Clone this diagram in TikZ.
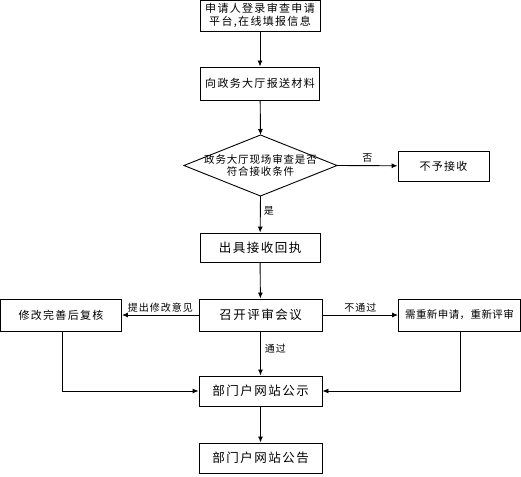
\documentclass[tikz,border=0pt]{standalone}
\usepackage{fontspec}
\setmainfont{Noto Sans CJK SC}
\usetikzlibrary{arrows.meta}
\begin{document}
\begin{tikzpicture}[x=1pt,y=-1pt,
  box/.style={draw,line width=0.9pt,inner sep=0pt,align=center,font=\fontsize{11}{13}\selectfont\addfontfeature{LetterSpace=12}},
  big/.style={font=\fontsize{12.5}{14}\selectfont\addfontfeature{LetterSpace=12}},
  lab/.style={font=\fontsize{10}{12}\selectfont\addfontfeature{LetterSpace=10},inner sep=1pt},
  arr/.style={line width=0.9pt,-{Latex[length=6pt,width=5pt]}}]
\useasboundingbox (0,0) rectangle (521,476);
\node[box,minimum width=120,minimum height=31] (a) at (260,15.5) {申请人登录审查申请\\平台,在线填报信息};
\node[box,minimum width=119,minimum height=33] (b) at (260,83.5) {向政务大厅报送材料};
\coordinate (dt) at (260.5,135);
\coordinate (db) at (260.5,196);
\coordinate (dl) at (184,165.5);
\coordinate (dr) at (337,165.5);
\draw[line width=0.9pt] (dt) -- (dr) -- (db) -- (dl) -- cycle;
\node[inner sep=0pt,align=center,font=\fontsize{10.5}{12.5}\selectfont\addfontfeature{LetterSpace=8}] (d) at (260.5,165.5) {政务大厅现场审查是否\\符合接收条件};
\node[box,minimum width=91,minimum height=30] (e) at (443.5,166) {不予接收};
\node[box,big,minimum width=120,minimum height=29] (f) at (260,247.5) {出具接收回执};
\node[box,big,minimum width=123,minimum height=32] (g) at (260.5,315) {召开评审会议};
\node[box,minimum width=121,minimum height=32] (h) at (61,315) {修改完善后复核};
\node[box,minimum width=122,minimum height=32,font=\fontsize{10.5}{12.5}\selectfont\addfontfeature{LetterSpace=4}] (i) at (459.5,315) {需重新申请，重新评审};
\node[box,big,minimum width=123,minimum height=30] (j) at (260.5,391) {部门户网站公示};
\node[box,big,minimum width=123,minimum height=30] (k) at (260.5,458) {部门户网站公告};
\coordinate (hl) at (62,391);
\coordinate (il) at (460,391);
\draw[arr] (a) -- (b);
\draw[arr] (b) -- (dt);
\draw[arr] (dr) -- node[lab,above=2pt] (no) {否} (e);
\draw[arr] (db) -- node[lab,right=2pt,pos=0.4] (yes) {是} (f);
\draw[arr] (f) -- (g);
\draw[arr] (g) -- node[lab,above=1pt] (l1) {提出修改意见} (h);
\draw[arr] (g) -- node[lab,above=1pt] (l2) {不通过} (i);
\draw[arr] (g) -- node[lab,right=3pt,pos=0.4] (l3) {通过} (j);
\draw[arr] (h.south -| hl) -- (hl) -- (j.west);
\draw[arr] (i.south -| il) -- (il) -- (j.east);
\draw[arr] (j) -- (k);
\end{tikzpicture}
\end{document}
